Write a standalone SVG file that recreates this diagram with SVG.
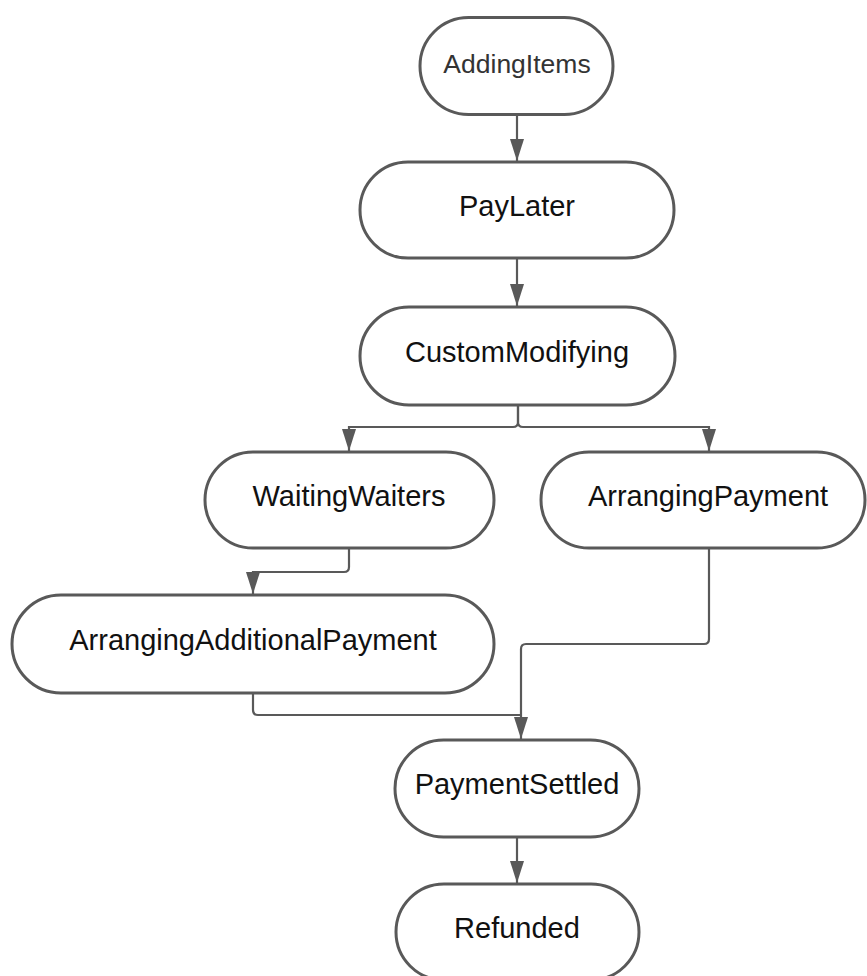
<svg xmlns="http://www.w3.org/2000/svg" width="867" height="976" viewBox="0 0 867 976">
<style>
.n{fill:#fff;stroke:#595959;stroke-width:3}
.t{font-family:"Liberation Sans",Arial,sans-serif;font-size:29px;fill:#111;text-anchor:middle}
.c{fill:none;stroke:#595959;stroke-width:2.2}
</style>
<defs>
<marker id="ah" markerUnits="userSpaceOnUse" markerWidth="24" markerHeight="16" refX="22" refY="7" orient="auto">
<path d="M0,0 L22,7 L0,14 z" fill="#595959"/>
</marker>
</defs>
<rect width="867" height="976" fill="#fff"/>
<g id="connectors">
<path class="c" d="M517,116 V161" marker-end="url(#ah)"/>
<path class="c" d="M517,258 V306" marker-end="url(#ah)"/>
<path class="c" d="M518,405 V422 q0,5 -5,5 H349 V451" marker-end="url(#ah)"/>
<path class="c" d="M518,405 V422 q0,5 5,5 H709 V451" marker-end="url(#ah)"/>
<path class="c" d="M349,548 V567 q0,5 -5,5 H253 V594" marker-end="url(#ah)"/>
<path class="c" d="M709,548 V639 q0,5 -5,5 H526 q-5,0 -5,5 V739" marker-end="url(#ah)"/>
<path class="c" d="M253,693 V710 q0,5 5,5 H521"/>
<path class="c" d="M517,837 V883" marker-end="url(#ah)"/>
</g>
<g id="AddingItems"><rect class="n" x="420" y="17.5" width="193" height="97" rx="48.5"/><text class="t" x="517" y="73" style="font-size:26.5px;fill:#333">AddingItems</text></g>
<g id="PayLater"><rect class="n" x="360" y="162" width="314" height="96" rx="48"/><text class="t" x="517" y="216">PayLater</text></g>
<g id="CustomModifying"><rect class="n" x="360" y="307" width="315" height="98" rx="49"/><text class="t" x="517" y="362">CustomModifying</text></g>
<g id="WaitingWaiters"><rect class="n" x="205" y="452" width="289" height="96" rx="48"/><text class="t" x="349" y="506">WaitingWaiters</text></g>
<g id="ArrangingPayment"><rect class="n" x="541" y="452" width="324" height="96" rx="48"/><text class="t" x="708" y="506">ArrangingPayment</text></g>
<g id="ArrangingAdditionalPayment"><rect class="n" x="12" y="595" width="482" height="98" rx="49"/><text class="t" x="253" y="650">ArrangingAdditionalPayment</text></g>
<g id="PaymentSettled"><rect class="n" x="395" y="740" width="244" height="97" rx="48.5"/><text class="t" x="517" y="794">PaymentSettled</text></g>
<g id="Refunded"><rect class="n" x="396" y="884" width="243" height="96" rx="48"/><text class="t" x="517" y="938">Refunded</text></g>
</svg>
